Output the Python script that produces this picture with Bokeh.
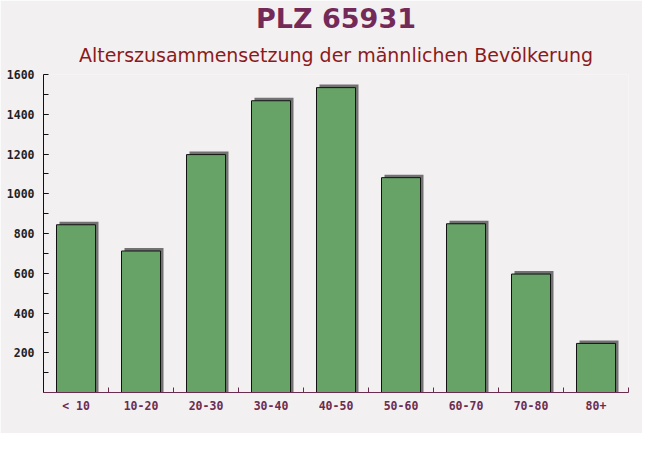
from bokeh.plotting import figure
from bokeh.models import Range1d, FixedTicker, Title
from bokeh.embed import file_html
from bokeh.resources import INLINE

categories = ["< 10", "10-20", "20-30", "30-40", "40-50", "50-60", "60-70", "70-80", "80+"]
values = [844, 712, 1197, 1468, 1534, 1081, 849, 596, 247]
y_ticks = [200, 400, 600, 800, 1000, 1200, 1400, 1600]
title_text = "PLZ 65931"
subtitle_text = "Alterszusammensetzung der männlichen Bevölkerung"

n = len(categories)
centers = [i + 0.5 for i in range(n)]
bounds = list(range(n + 1))

BG = "#f3f0f2"
p = figure(width=642, height=433, output_backend="svg", toolbar_location=None,
           x_range=Range1d(0, n), y_range=Range1d(0, 1600),
           min_border_left=43, min_border_right=14, min_border_top=10, min_border_bottom=41)
p.background_fill_color = BG
p.border_fill_color = BG
p.outline_line_color = None
p.grid.visible = False

# shadows (offset a few pixels right/up)
dx = 3 / 65.0
dy = 3 * 1600 / 318.0
p.vbar(x=[c + dx for c in centers], top=[v + dy for v in values], bottom=0, width=0.6,
       fill_color="#5c5c5c", fill_alpha=0.85, line_color=None)
p.vbar(x=centers, top=values, bottom=0, width=0.6,
       fill_color="#67a367", fill_alpha=1.0, line_color="#111111", line_width=1)

# y axis
ya = p.yaxis[0]
ya.ticker = FixedTicker(ticks=y_ticks, minor_ticks=list(range(100, 1600, 100)))
ya.axis_line_color = "#111111"
ya.major_tick_in = 5
ya.major_tick_out = 0
ya.minor_tick_in = 5
ya.minor_tick_out = 0
ya.major_tick_line_color = "#111111"
ya.minor_tick_line_color = "#111111"
ya.major_label_text_font = "DejaVu Sans Mono"
ya.major_label_text_font_style = "bold"
ya.major_label_text_font_size = "11.5px"
ya.major_label_text_color = "#222222"
ya.major_label_standoff = 9

# x axis
xa = p.xaxis[0]
xa.ticker = FixedTicker(ticks=centers, minor_ticks=bounds)
xa.major_label_overrides = {c: lab for c, lab in zip(centers, categories)}
xa.axis_line_color = "#6b2d4f"
xa.major_tick_in = 0
xa.major_tick_out = 0
xa.minor_tick_in = 5
xa.minor_tick_out = 0
xa.minor_tick_line_color = "#6b2d4f"
xa.major_label_text_font = "DejaVu Sans Mono"
xa.major_label_text_font_style = "bold"
xa.major_label_text_font_size = "11.5px"
xa.major_label_text_color = "#6b2d4f"
xa.major_label_standoff = 6

p.add_layout(Title(text=subtitle_text, align="center", text_font="DejaVu Sans",
                   text_font_style="normal", text_font_size="19px", text_color="#8b1a1a",
                   standoff=17), "above")
p.add_layout(Title(text=title_text, align="center", text_font="DejaVu Sans",
                   text_font_style="bold", text_font_size="27px", text_color="#742a58",
                   standoff=0), "above")

open("out.html", "w").write(file_html(p, INLINE))
